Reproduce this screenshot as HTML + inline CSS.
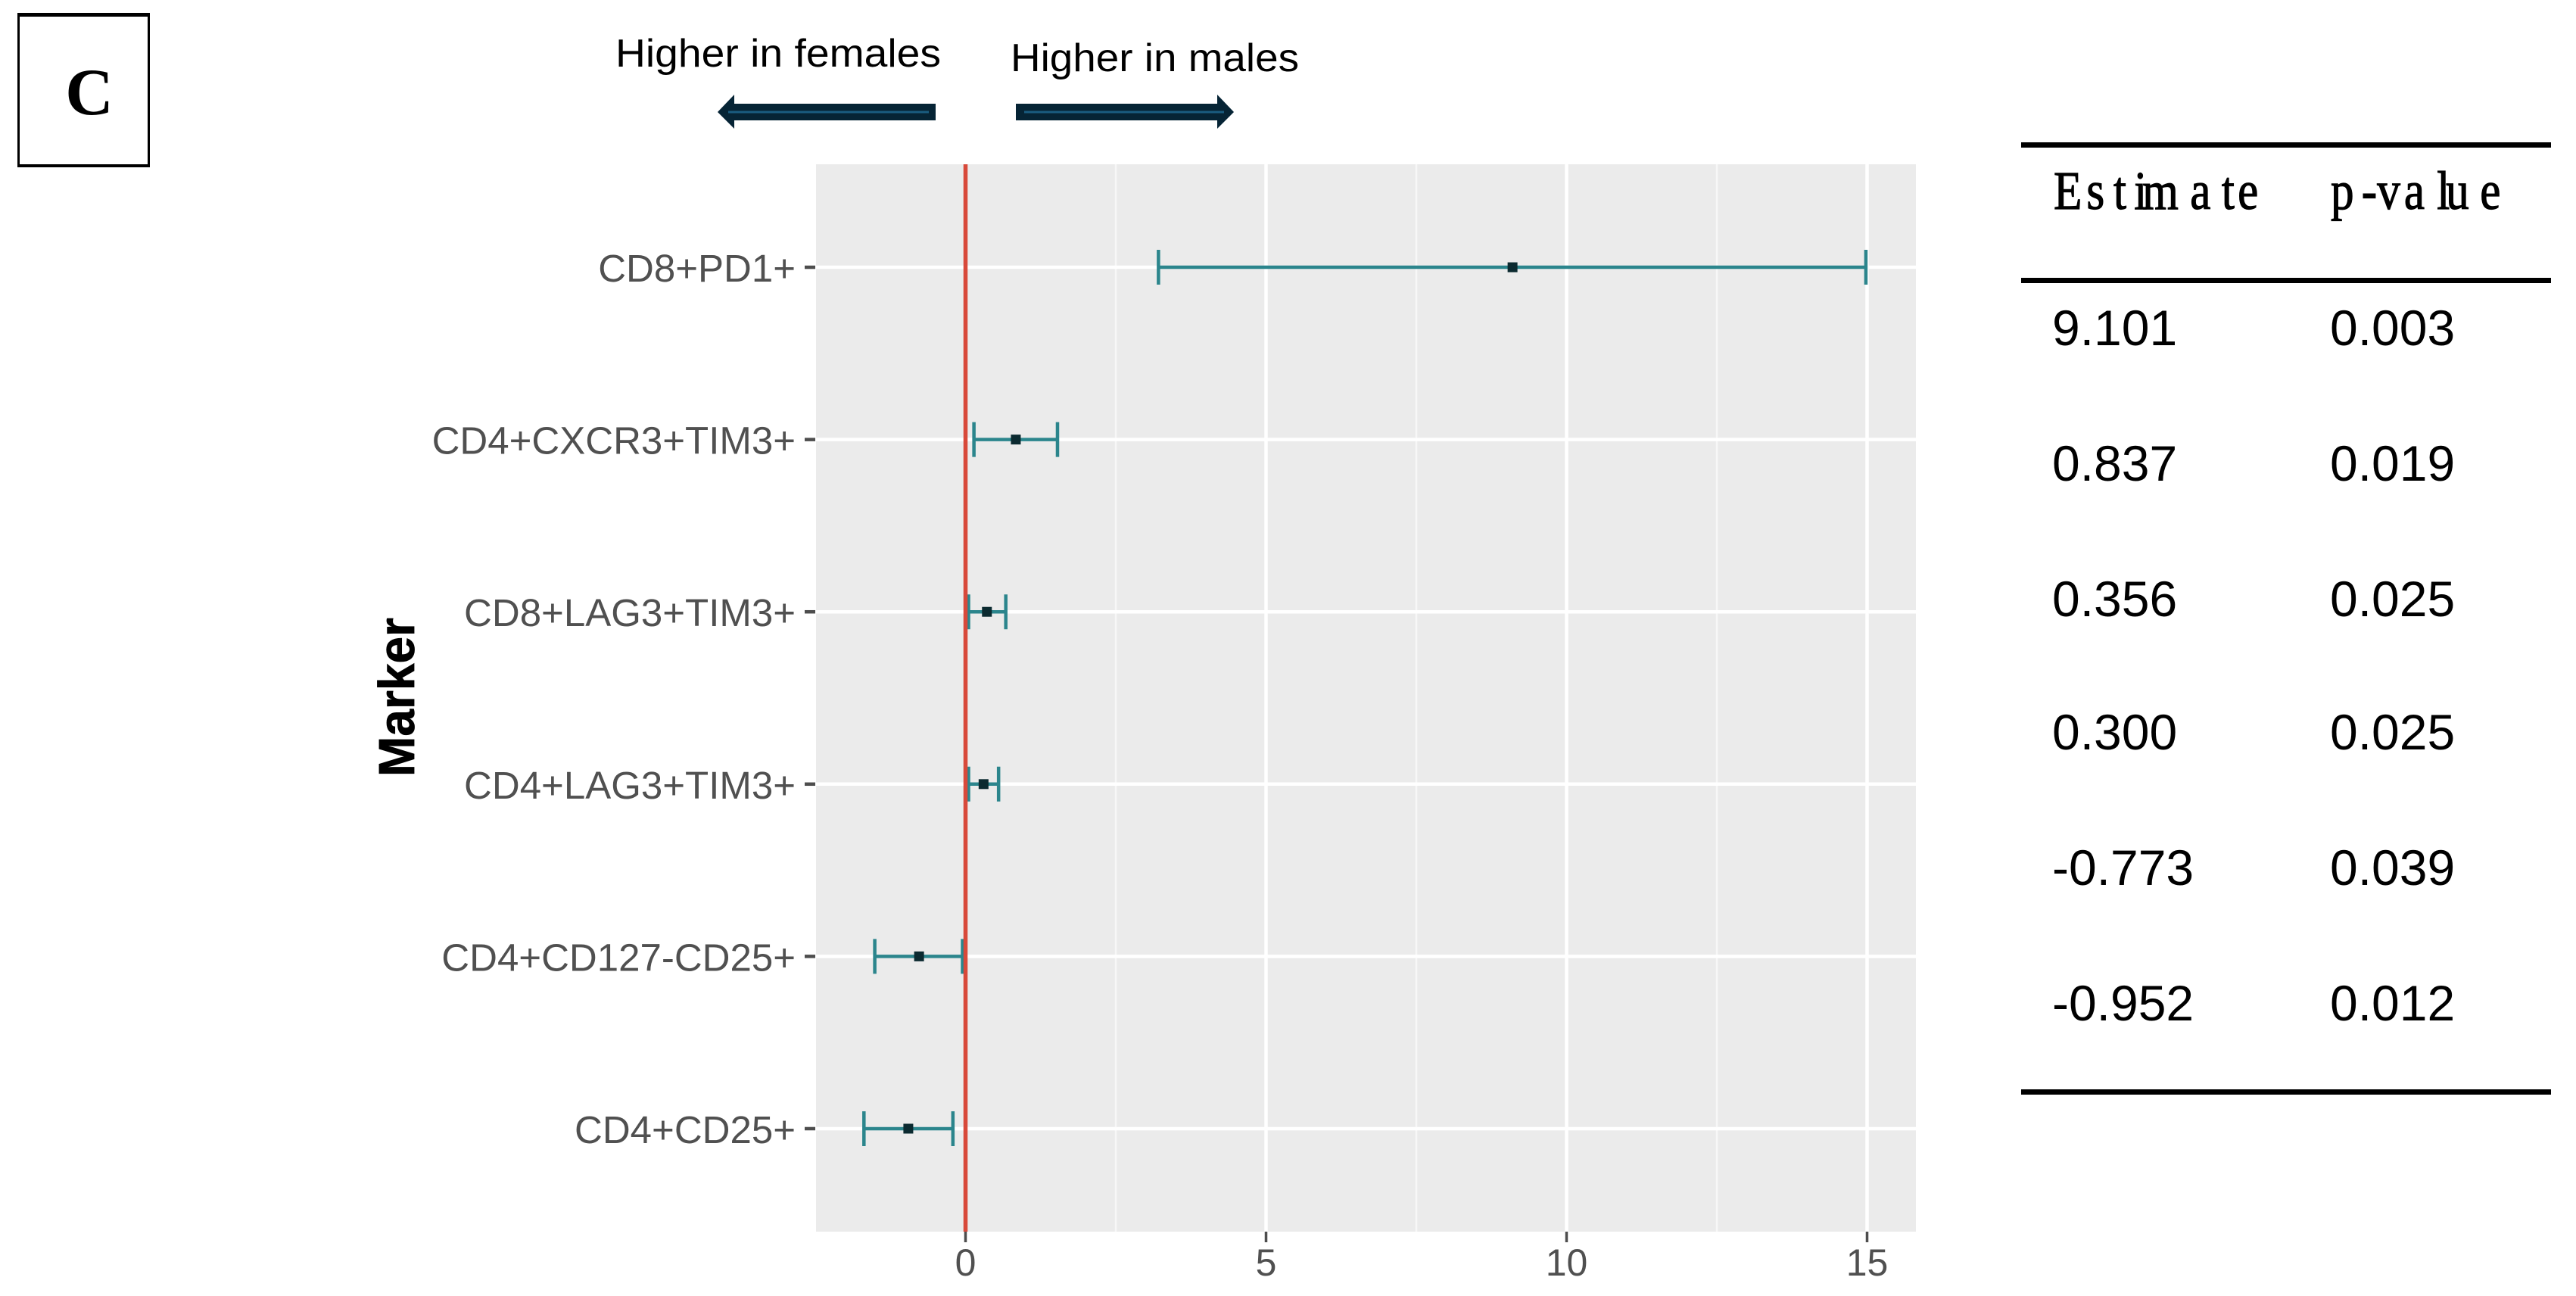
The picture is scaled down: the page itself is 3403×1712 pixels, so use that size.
<!DOCTYPE html>
<html lang="en">
<head>
<meta charset="utf-8">
<title>Marker estimates forest plot</title>
<style>
  html, body { margin: 0; padding: 0; background: #ffffff; }
  svg { display: block; }
  text { font-family: "Liberation Sans", sans-serif; }
</style>
</head>
<body>
<svg id="figure" xmlns="http://www.w3.org/2000/svg" width="3403" height="1712" viewBox="0 0 3403 1712">
  <rect x="0" y="0" width="3403" height="1712" fill="#ffffff"/>

  <!-- Panel label -->
  <g>
    <rect x="23" y="17" width="175" height="204" fill="#000000"/>
    <rect x="26" y="22" width="169" height="195" fill="#ffffff"/>
    <text x="118" y="151" text-anchor="middle" font-size="88" style="font-family:'Liberation Serif',serif" font-weight="bold" fill="#000000">C</text>
  </g>

  <!-- Direction annotations -->
  <text x="813" y="88" font-size="52" fill="#000000" textLength="430" lengthAdjust="spacingAndGlyphs">Higher in females</text>
  <text x="1335" y="94" font-size="52" fill="#000000" textLength="381" lengthAdjust="spacingAndGlyphs">Higher in males</text>
  <g>
    <polygon points="948,148 970,125 970,137 1236,137 1236,159 970,159 970,170" fill="#062435"/>
    <rect x="962" y="146.500" width="265" height="3" fill="#1a5c80"/>
  </g>
  <g>
    <polygon points="1630,148 1608,125 1608,137 1342,137 1342,159 1608,159 1608,170" fill="#062435"/>
    <rect x="1353" y="146.500" width="264" height="3" fill="#1a5c80"/>
  </g>

  <!-- Plot -->
  <rect x="1078" y="217" width="1453" height="1410" fill="#ebebeb"/>
  <g id="grid"></g>
  <g id="axes"></g>
  <g id="marks"></g>
  <text transform="translate(547,921) rotate(-90) scale(1,1.05)" text-anchor="middle" font-size="64" font-weight="bold" fill="#000000" stroke="#000000" stroke-width="0.8">Marker</text>

  <!-- Table -->
  <g id="table">
    <rect x="2670" y="188" width="700" height="7" fill="#000000"/>
    <rect x="2670" y="367" width="700" height="7" fill="#000000"/>
    <rect x="2670" y="1439" width="700" height="7" fill="#000000"/>
    <text transform="translate(2713,276) scale(0.85,1)" font-size="72" style="font-family:'Liberation Serif',serif" fill="#000000" stroke="#000000" stroke-width="1.2" x="0 51 93 125 138 212 261 286">Estimate</text>
    <text transform="translate(3079,276) scale(0.85,1)" font-size="72" style="font-family:'Liberation Serif',serif" fill="#000000" stroke="#000000" stroke-width="1.2" x="0 48 72 114 165 179 232">p-value</text>
  </g>
</svg>

<script>
// Chart data (top row first)
const markers = ['CD8+PD1+', 'CD4+CXCR3+TIM3+', 'CD8+LAG3+TIM3+', 'CD4+LAG3+TIM3+', 'CD4+CD127-CD25+', 'CD4+CD25+'];
const estimates = [9.101, 0.837, 0.356, 0.300, -0.773, -0.952];
const lowerBounds = [3.21, 0.14, 0.05, 0.05, -1.51, -1.69];
const upperBounds = [14.98, 1.53, 0.67, 0.55, -0.05, -0.21];
const pValues = ['0.003', '0.019', '0.025', '0.025', '0.039', '0.012'];
const estimateLabels = ['9.101', '0.837', '0.356', '0.300', '-0.773', '-0.952'];
const xTicks = [0, 5, 10, 15];
const xMinorTicks = [2.5, 7.5, 12.5];
const referenceValue = 0;

const SVG_NS = 'http://www.w3.org/2000/svg';

// Axis functions
function xScale(v) { return 1275.5 + 79.4 * v; }
function yScale(i) { return 216 + (i + 0.6) * (1411 / (markers.length - 1 + 1.2)) + 0.5; }
function tableBaseline(i) { return [456, 635, 814, 990, 1169, 1348][i]; }

function make(tag, attrs, parent, text) {
  const el = document.createElementNS(SVG_NS, tag);
  for (const k in attrs) el.setAttribute(k, attrs[k]);
  if (text !== undefined) el.textContent = text;
  parent.appendChild(el);
  return el;
}

const PANEL_LEFT = 1078, PANEL_RIGHT = 2531, PANEL_TOP = 217, PANEL_BOTTOM = 1627;
const grid = document.getElementById('grid');
const axes = document.getElementById('axes');
const marks = document.getElementById('marks');
const table = document.getElementById('table');

// Minor vertical grid lines
xMinorTicks.forEach(function (t) {
  const el = make('line', { x1: xScale(t), x2: xScale(t), y1: PANEL_TOP, y2: PANEL_BOTTOM, stroke: '#f7f7f7', 'stroke-width': 2.5 }, grid);
  
  
});

// Major vertical grid lines
xTicks.forEach(function (t) {
  const el = make('line', { x1: xScale(t), x2: xScale(t), y1: PANEL_TOP, y2: PANEL_BOTTOM, stroke: '#ffffff', 'stroke-width': 4.5 }, grid);
  
  
});

// Horizontal grid lines, y ticks and y labels
markers.forEach(function (m, i) {
  const y = yScale(i);
  const gl = make('line', { x1: PANEL_LEFT, x2: PANEL_RIGHT, y1: y, y2: y, stroke: '#ffffff', 'stroke-width': 4.5 }, grid);
  
  

  const tick = make('line', { x1: PANEL_LEFT - 15, x2: PANEL_LEFT - 1, y1: y, y2: y, stroke: '#4d4d4d', 'stroke-width': 4.5 }, axes);
  
  

  const label = make('text', { x: 1051, y: y + 19, 'text-anchor': 'end', 'font-size': 51, fill: '#505050' }, axes, m);
  
  
});

// X ticks and labels
xTicks.forEach(function (t) {
  const tick = make('line', { x1: xScale(t), x2: xScale(t), y1: PANEL_BOTTOM, y2: PANEL_BOTTOM + 14, stroke: '#4d4d4d', 'stroke-width': 3.5 }, axes);
  
  

  const label = make('text', { x: xScale(t), y: 1685, 'text-anchor': 'middle', 'font-size': 50, fill: '#505050' }, axes, String(t));
  
  
});

// Error bars and points
const CAP_HALF = 23;
markers.forEach(function (m, i) {
  const y = yScale(i);
  const teal = '#2b858c';

  const bar = make('line', { x1: xScale(lowerBounds[i]), x2: xScale(upperBounds[i]), y1: y, y2: y, stroke: teal, 'stroke-width': 4.5 }, marks);
  
  

  const lowCap = make('line', { x1: xScale(lowerBounds[i]), x2: xScale(lowerBounds[i]), y1: y - CAP_HALF, y2: y + CAP_HALF, stroke: teal, 'stroke-width': 4.5 }, marks);
  
  

  const highCap = make('line', { x1: xScale(upperBounds[i]), x2: xScale(upperBounds[i]), y1: y - CAP_HALF, y2: y + CAP_HALF, stroke: teal, 'stroke-width': 4.5 }, marks);
  
  

  const pt = make('rect', { x: xScale(estimates[i]) - 6.5, y: y - 6.5, width: 13, height: 13, fill: '#0b2a30' }, marks);
  
  
});

// Reference line at zero
const refLine = make('line', { x1: xScale(referenceValue), x2: xScale(referenceValue), y1: PANEL_TOP, y2: PANEL_BOTTOM, stroke: '#d8493a', 'stroke-width': 5.5 }, marks);



// Table rows
markers.forEach(function (m, i) {
  const est = make('text', { x: 2711, y: tableBaseline(i), 'font-size': 66, fill: '#000000' }, table, estimateLabels[i]);
  
  

  const p = make('text', { x: 3078, y: tableBaseline(i), 'font-size': 66, fill: '#000000' }, table, pValues[i]);
  
  
});
</script>
</body>
</html>
